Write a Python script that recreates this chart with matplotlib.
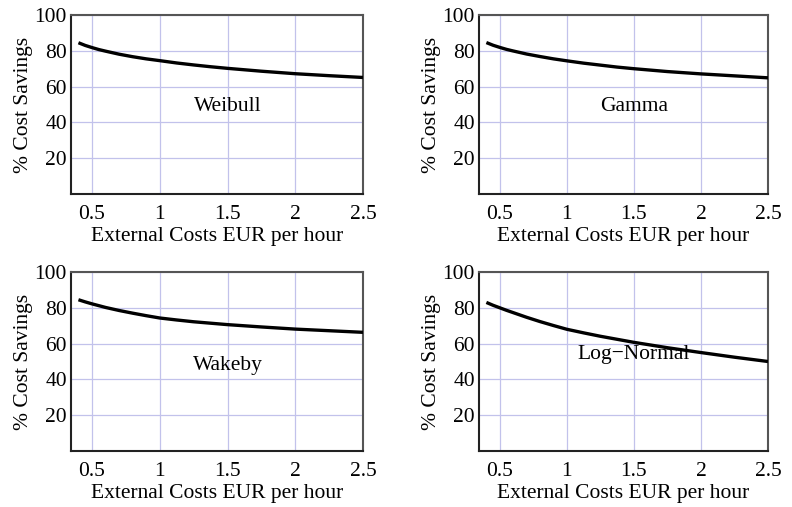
import matplotlib
matplotlib.use("Agg")
import matplotlib.pyplot as plt

x = [0.4, 0.45, 0.5, 0.55, 0.6, 0.7, 0.8, 0.9, 1.0, 1.125, 1.25, 1.375, 1.5, 1.75, 2.0, 2.25, 2.5]
weibull = [84.5, 83.0, 81.8, 80.7, 79.8, 78.1, 76.7, 75.5, 74.5, 73.2, 72.1, 71.1, 70.2, 68.6, 67.2, 66.1, 65.1]
gamma = [84.6, 83.1, 81.9, 80.8, 79.9, 78.2, 76.8, 75.5, 74.4, 73.1, 72.0, 70.9, 70.0, 68.4, 67.1, 66.0, 64.9]
wakeby = [84.5, 83.3, 82.2, 81.2, 80.2, 78.5, 77.0, 75.6, 74.3, 73.2, 72.2, 71.4, 70.6, 69.3, 68.1, 67.2, 66.3]
lognormal = [83.0, 81.4, 80.0, 78.6, 77.3, 74.7, 72.3, 70.1, 68.0, 66.0, 64.1, 62.4, 60.7, 57.7, 55.0, 52.4, 50.0]

names = ["Weibull", "Gamma", "Wakeby", "Log\u2212Normal"]
series = [weibull, gamma, wakeby, lognormal]
label_y = [49, 49, 48, 54]

xticks = [0.5, 1, 1.5, 2, 2.5]
xticklabels = ["0.5", "1", "1.5", "2", "2.5"]
yticks = [20, 40, 60, 80, 100]
yticklabels = ["20", "40", "60", "80", "100"]

plt.rcParams['font.family'] = ['Liberation Serif', 'DejaVu Serif']
W, H = 792, 507
fig = plt.figure(figsize=(W / 100, H / 100), dpi=100)

# pixel boxes: left, right, top, bottom
boxes = [(71, 363, 15, 194), (479, 768, 15, 194), (71, 363, 272, 451), (479, 768, 272, 451)]
grid_c = (0.76, 0.76, 0.92)
FS = 15.5

for (l, r, t, b), name, ys, ly in zip(boxes, names, series, label_y):
    ax = fig.add_axes([l / W, 1 - b / H, (r - l) / W, (b - t) / H])
    ax.set_xlim(0.345, 2.5)
    ax.set_ylim(0, 100)
    for v in xticks:
        ax.axvline(v, color=grid_c, lw=0.9, zorder=0)
    for v in yticks:
        ax.axhline(v, color=grid_c, lw=0.9, zorder=0)
    ax.plot(x, ys, color="black", lw=2.4, solid_capstyle="butt", zorder=3)
    ax.text(1.5, ly, name, ha="center", va="center", fontsize=FS)
    ax.set_xticks(xticks)
    ax.set_xticklabels(xticklabels)
    ax.set_yticks(yticks)
    ax.set_yticklabels(yticklabels)
    ax.tick_params(axis="x", length=0, labelsize=FS, pad=8)
    ax.tick_params(axis="y", length=0, labelsize=FS, pad=3)
    ax.spines["left"].set_color("#222222")
    ax.spines["bottom"].set_color("#222222")
    ax.spines["top"].set_color("#555555")
    ax.spines["right"].set_color("#555555")
    for s in ax.spines.values():
        s.set_linewidth(1.5)
    ax.set_xlabel("External Costs EUR per hour", fontsize=FS, labelpad=2)
    ax.set_ylabel("% Cost Savings", fontsize=FS, labelpad=1)

fig.savefig("out.png", dpi=100)
